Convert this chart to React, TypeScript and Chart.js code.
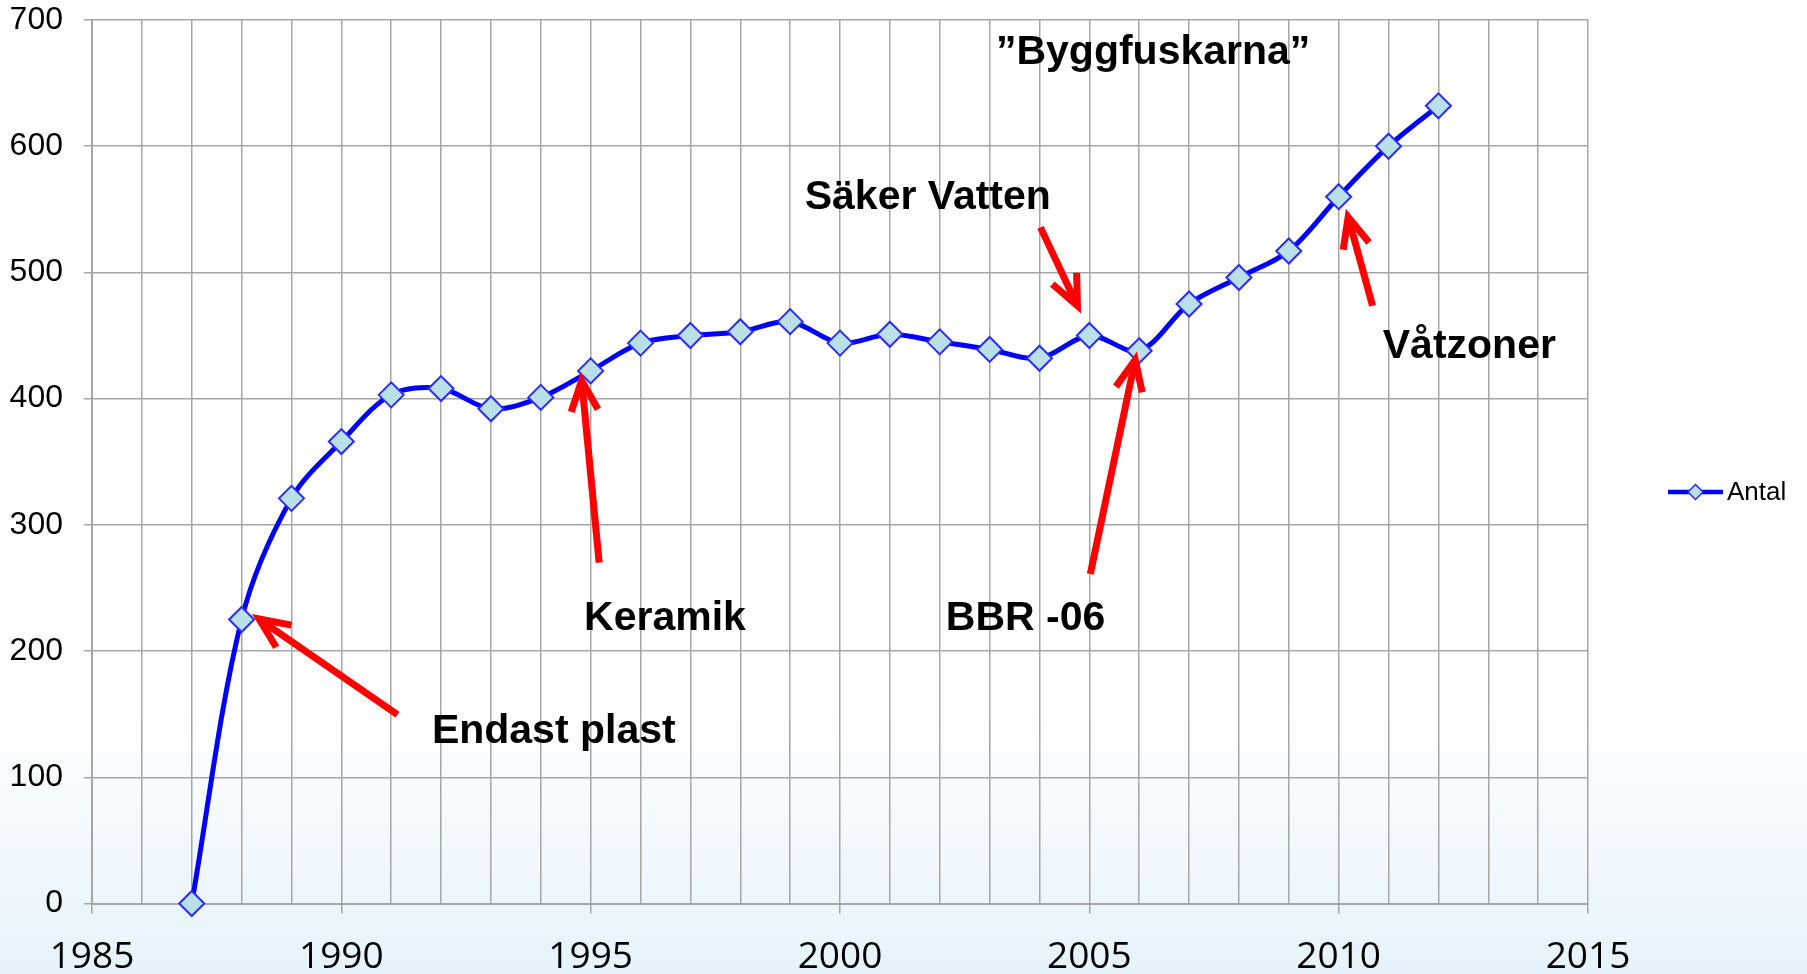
import { useEffect, useRef } from "react";
import { Chart, registerables } from "chart.js";

Chart.register(...registerables);

const years = [1987, 1988, 1989, 1990, 1991, 1992, 1993, 1994, 1995, 1996, 1997, 1998, 1999, 2000, 2001, 2002, 2003, 2004, 2005, 2006, 2007, 2008, 2009, 2010, 2011, 2012];
const antal = [0, 225, 321, 366, 403, 408, 392, 401, 422, 444, 450, 453, 461, 444, 451, 445, 439, 432, 450, 438, 475, 496, 517, 560, 600, 632];

const xTickLabels = ["1985", "1990", "1995", "2000", "2005", "2010", "2015"];
const yTickValues = [0, 100, 200, 300, 400, 500, 600, 700];

const seriesName = "Antal";

const noteTexts = ["\u201DByggfuskarna\u201D", "Säker Vatten", "Våtzoner", "Keramik", "BBR -06", "Endast plast"];
const noteX = [2006.28, 2001.76, 2012.62, 1996.49, 2003.72, 1994.26];
const noteY = [676.6, 562, 443.5, 228, 228, 139];

const arrowFromX = [1991.125, 1995.17, 2004.02, 2005.02, 2010.68];
const arrowFromY = [149.6, 270.1, 535.7, 261, 473.6];
const arrowToX = [1988.35, 1994.82, 2004.76, 2005.92, 2010.19];
const arrowToY = [225.4, 414.3, 473.6, 430.7, 543.9];

const GRID = "#a6a6a6";
const LINE = "#0000ff";
const MARK_FILL = "#b9e0e6";
const MARK_EDGE = "#2b2bff";

const notesPlugin = {
  id: "notes",
  afterDatasetsDraw(chart: any) {
    const { ctx } = chart;
    const xs = chart.scales.x;
    const ys = chart.scales.y;
    ctx.save();
    ctx.strokeStyle = "#ff0000";
    ctx.lineWidth = 7;
    ctx.lineCap = "butt";
    ctx.lineJoin = "miter";
    for (let i = 0; i < arrowFromX.length; i++) {
      const x1 = xs.getPixelForValue(arrowFromX[i]);
      const y1 = ys.getPixelForValue(arrowFromY[i]);
      const x2 = xs.getPixelForValue(arrowToX[i]);
      const y2 = ys.getPixelForValue(arrowToY[i]);
      const ang = Math.atan2(y1 - y2, x1 - x2);
      const spread = (24 * Math.PI) / 180;
      const len = 33;
      ctx.beginPath();
      ctx.moveTo(x1, y1);
      ctx.lineTo(x2, y2);
      ctx.stroke();
      ctx.beginPath();
      ctx.moveTo(x2 + Math.cos(ang + spread) * len, y2 + Math.sin(ang + spread) * len);
      ctx.lineTo(x2, y2);
      ctx.lineTo(x2 + Math.cos(ang - spread) * len, y2 + Math.sin(ang - spread) * len);
      ctx.stroke();
    }
    const fs = 41;
    ctx.font = `bold ${fs}px "Liberation Sans", Arial, sans-serif`;
    ctx.fillStyle = "#000000";
    ctx.textAlign = "center";
    ctx.textBaseline = "alphabetic";
    for (let i = 0; i < noteTexts.length; i++) {
      const px = xs.getPixelForValue(noteX[i]);
      const py = ys.getPixelForValue(noteY[i]);
      ctx.fillText(noteTexts[i], px, py + 0.358 * fs);
    }
    ctx.restore();
  },
};

const legendPlugin = {
  id: "customLegend",
  afterDraw(chart: any) {
    const { ctx } = chart;
    const cy = 492;
    const lx0 = 1668;
    const lx1 = 1723;
    ctx.save();
    ctx.strokeStyle = LINE;
    ctx.lineWidth = 4.5;
    ctx.beginPath();
    ctx.moveTo(lx0, cy);
    ctx.lineTo(lx1, cy);
    ctx.stroke();
    const cx = (lx0 + lx1) / 2;
    const r = 7.5;
    ctx.beginPath();
    ctx.moveTo(cx, cy - r);
    ctx.lineTo(cx + r, cy);
    ctx.lineTo(cx, cy + r);
    ctx.lineTo(cx - r, cy);
    ctx.closePath();
    ctx.fillStyle = MARK_FILL;
    ctx.fill();
    ctx.strokeStyle = MARK_EDGE;
    ctx.lineWidth = 1.5;
    ctx.stroke();
    ctx.font = `26px "Liberation Sans", Arial, sans-serif`;
    ctx.fillStyle = "#000000";
    ctx.textAlign = "left";
    ctx.textBaseline = "middle";
    ctx.fillText(seriesName, lx1 + 4, cy + 1);
    ctx.restore();
  },
};

export default function App() {
  const canvasRef = useRef<HTMLCanvasElement | null>(null);

  useEffect(() => {
    document.body.style.margin = "0";
    const canvas = canvasRef.current;
    if (!canvas) return;
    const chart = new Chart(canvas, {
      type: "line",
      data: {
        datasets: [
          {
            label: seriesName,
            data: years.map((yr, i) => ({ x: yr, y: antal[i] })),
            borderColor: LINE,
            borderWidth: 5,
            tension: 0.33,
            fill: false,
            pointStyle: "rectRot",
            pointRadius: 12.5,
            pointBorderWidth: 2,
            pointBackgroundColor: MARK_FILL,
            pointBorderColor: MARK_EDGE,
            clip: false as any,
          },
        ],
      },
      options: {
        animation: false,
        responsive: false,
        events: [],
        layout: { padding: { top: 20, right: 219, left: 0, bottom: 0 } },
        plugins: {
          legend: { display: false },
          tooltip: { enabled: false },
          title: { display: false },
        },
        scales: {
          x: {
            type: "linear",
            min: 1985,
            max: 2015,
            afterFit: (s: any) => {
              s.height = 70.5;
              s.paddingLeft = 0;
              s.paddingRight = 0;
            },
            afterBuildTicks: (s: any) => {
              const t = [];
              for (let v = 1985; v <= 2015; v++) t.push({ value: v });
              s.ticks = t;
            },
            ticks: {
              autoSkip: false,
              maxRotation: 0,
              padding: 22,
              color: "#000000",
              font: { family: '"Open Sans", sans-serif', size: 37 },
              callback: (v: any) => (xTickLabels.includes(String(v)) ? String(v) : ""),
            },
            grid: {
              color: GRID,
              lineWidth: 1.5,
              drawTicks: true,
              tickLength: 10,
              tickColor: (c: any) => (c.tick && xTickLabels.includes(String(c.tick.value)) ? GRID : "rgba(0,0,0,0)"),
            },
            border: { color: GRID, width: 2 },
          },
          y: {
            min: 0,
            max: 700,
            afterFit: (s: any) => {
              s.width = 92;
              s.paddingTop = 0;
              s.paddingBottom = 0;
            },
            afterBuildTicks: (s: any) => {
              s.ticks = yTickValues.map((v) => ({ value: v }));
            },
            ticks: {
              padding: 21,
              color: "#000000",
              font: { family: '"Liberation Sans", Arial, sans-serif', size: 32 },
            },
            grid: {
              color: GRID,
              lineWidth: 1.5,
              tickLength: 8,
            },
            border: { color: GRID, width: 2 },
          },
        },
      },
      plugins: [notesPlugin, legendPlugin],
    });
    return () => chart.destroy();
  }, []);

  return (
    <div
      style={{
        width: 1807,
        height: 974,
        background: "linear-gradient(to bottom, #ffffff 0%, #ffffff 72%, #e6f3fc 100%)",
      }}
    >
      <canvas ref={canvasRef} width={1807} height={974} style={{ display: "block" }} />
    </div>
  );
}
